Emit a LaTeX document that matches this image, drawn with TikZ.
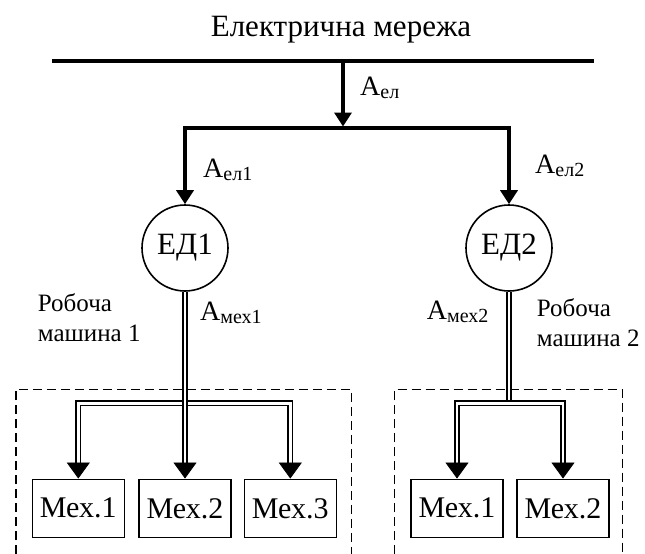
\documentclass[tikz,border=0pt]{standalone}
\usepackage{fontspec}
\setmainfont{Liberation Serif}
\usetikzlibrary{arrows.meta}
\newcommand{\fsz}[1]{\fontsize{#1}{#1}\selectfont}
\newcommand{\amark}[1]{\fsz{28}А\raisebox{-3pt}{\fsz{20}#1}}
\begin{document}
\begin{tikzpicture}[x=1pt,y=-1pt,
  power/.style={line width=4pt},
  ptip/.style={-{Triangle[width=17pt,length=14pt]}},
  dbl/.style={draw, line width=1.7pt, double=white, double distance=2.6pt},
  dtip/.style={-{Triangle[width=23pt,length=16pt]}, line width=0.8pt},
  motor/.style={circle, draw, line width=1.6pt, minimum size=86pt, inner sep=0pt, font=\fsz{31}},
  mech/.style={rectangle, draw, line width=1.5pt, minimum width=92pt, minimum height=58pt, inner sep=0pt, font=\fsz{30}},
  lab/.style={anchor=base west, inner sep=0pt},
  frame/.style={line width=1.3pt, dash pattern=on 9pt off 5pt}
]
\useasboundingbox (0,0) rectangle (645,554);

% title and supply
\node[anchor=base, inner sep=0pt, font=\fsz{31}] (title) at (341,36.7) {Електрична мережа};
\coordinate (busL) at (52,61);
\coordinate (busR) at (594,61);
\coordinate (tap) at (343,61);
\coordinate (jc) at (343,128);
\coordinate (jl) at (185,128);
\coordinate (jr) at (509,128);

\node[motor] (e1) at (185,248) {ЕД1};
\node[motor] (e2) at (509,248) {ЕД2};

\draw[power] (busL) -- (busR);
\draw[power,ptip,shorten >=1.5pt] (tap) -- (jc);
\draw[power,line cap=rect] (jl) -- (jr);
\draw[power,ptip] (jl) -- (e1);
\draw[power,ptip] (jr) -- (e2);

% labels
\node[lab] (ael) at (360,95) {\amark{ел}};
\node[lab] (ael1) at (203,177) {\amark{ел1}};
\node[lab] (ael2) at (535,173) {\amark{ел2}};
\node[lab] (amex1) at (200,320.7) {\amark{мех1}};
\node[lab] (amex2) at (426.7,319.3) {\amark{мех2}};
\node[lab, align=left, font={\fontsize{25}{30}\selectfont}] (rm1) at (37.7,341.7) {Робоча\\машина 1};
\node[lab, align=left, font={\fontsize{25}{30}\selectfont}] (rm2) at (536.7,346.7) {Робоча\\машина 2};

% machines
\node[mech] (m11) at (78.3,508.3) {Мех.1};
\node[mech] (m12) at (185,508.3) {Мех.2};
\node[mech] (m13) at (290.3,508.3) {Мех.3};
\node[mech] (m21) at (457,508.3) {Мех.1};
\node[mech] (m22) at (563,508.3) {Мех.2};

\coordinate (h1) at (185,403.4);
\coordinate (h2) at (509,403.4);

% dashed frames
\coordinate (f1a) at (16,554);
\coordinate (f1b) at (351.7,389.3);
\coordinate (f1c) at (351.7,554);
\coordinate (f2a) at (394.3,554);
\coordinate (f2b) at (622.3,389.3);
\coordinate (f2c) at (622.3,554);
\draw[frame] (f1a) |- (f1b) -- (f1c);
\draw[frame] (f2a) |- (f2b) -- (f2c);

% mechanical transmissions, machine 1
\draw[dbl, shorten <=14pt, shorten >=14pt] (m11.north) |- (h1) -| (m13.north);
\draw[dbl, shorten >=14pt] (e1) -- (m12);
\draw[dtip] ([yshift=16pt]m11.north) -- (m11.north);
\draw[dtip] ([yshift=16pt]m12.north) -- (m12.north);
\draw[dtip] ([yshift=16pt]m13.north) -- (m13.north);

% mechanical transmissions, machine 2
\draw[dbl] (e2) -- (h2);
\draw[dbl, shorten <=14pt, shorten >=14pt] (m21.north) |- (h2) -| (m22.north);
\draw[dtip] ([yshift=16pt]m21.north) -- (m21.north);
\draw[dtip] ([yshift=16pt]m22.north) -- (m22.north);
\end{tikzpicture}
\end{document}
